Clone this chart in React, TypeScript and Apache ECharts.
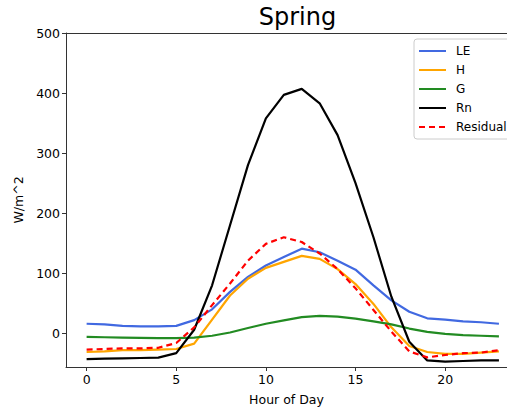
import React, { useEffect, useRef } from "react";
import * as echarts from "echarts";

const hours = [0, 1, 2, 3, 4, 5, 6, 7, 8, 9, 10, 11, 12, 13, 14, 15, 16, 17, 18, 19, 20, 21, 22, 23];
const LE = [16, 15, 12.5, 11.5, 11.5, 12.5, 22, 40, 69, 94, 113, 127, 141, 135, 121, 106, 80, 55, 36, 25, 23, 20, 18.5, 16];
const H = [-31, -30, -28, -28, -27, -26, -17, 23, 63, 91, 109, 119, 129, 124, 107, 82, 49, 10, -21, -31, -34, -34, -32, -30];
const G = [-6, -6.5, -7, -7.5, -8, -8, -7, -4, 1.5, 9, 16, 21.5, 27, 29, 28, 24.5, 20, 15, 8, 2.5, -1, -3, -4, -5];
const Rn = [-43, -42, -41.5, -41, -40.5, -33, 6, 80, 180, 280, 358, 397, 407, 383, 330, 250, 160, 61, -14, -45, -47, -46, -45, -45];
const Residual = [-27, -26, -25, -25, -24, -16, 10, 47, 83, 121, 149, 160, 152, 133, 107, 75, 39, 3, -30, -40, -36, -33, -32, -28];
const xTicks = [0, 5, 10, 15, 20];
const yTicks = [0, 100, 200, 300, 400, 500];

const FONT = "DejaVu Sans";

export default function App() {
  const ref = useRef<HTMLDivElement>(null);
  useEffect(() => {
    if (!ref.current) return;
    const chart = echarts.init(ref.current, undefined, { renderer: "svg" });
    const mk = (name: string, data: number[], color: string, dashed = false) => ({
      name,
      type: "line",
      data: hours.map((h, i) => [h, data[i]]),
      showSymbol: false,
      symbol: "none",
      lineStyle: { color, width: 2.2, type: dashed ? [6, 4] : "solid" },
      itemStyle: { color },
      z: 2,
    });
    const xMin = -1.15;
    const xMax = 23.45;
    chart.setOption({
      animation: false,
      backgroundColor: "#fff",
      title: {
        text: "Spring",
        left: 292.5,
        top: 0,
        textAlign: "center",
        textStyle: { fontFamily: FONT, fontSize: 24, fontWeight: "normal", color: "#000" },
      },
      grid: { left: 66, top: 33, right: 0, bottom: 41 },
      legend: {
        orient: "vertical",
        left: 414,
        top: 39,
        padding: [6, 14, 6, 4],
        itemWidth: 27,
        itemHeight: 12,
        itemGap: 7,
        backgroundColor: "rgba(255,255,255,0.8)",
        borderColor: "#ccc",
        borderWidth: 1,
        borderRadius: 3,
        itemStyle: { opacity: 0 },
        textStyle: { fontFamily: FONT, fontSize: 12, color: "#000", padding: [0, 0, 0, 5] },
        data: ["LE", "H", "G", "Rn", "Residual"],
      },
      xAxis: [
        {
          type: "value",
          min: xMin,
          max: xMax,
          name: "Hour of Day",
          nameLocation: "middle",
          nameGap: 26,
          nameTextStyle: { fontFamily: FONT, fontSize: 12.5, color: "#000" },
          axisLine: { show: true, onZero: false, lineStyle: { color: "#333", width: 1 } },
          axisTick: { show: true, inside: false, length: 4, lineStyle: { color: "#333" }, customValues: xTicks },
          axisLabel: { fontFamily: FONT, fontSize: 12.5, color: "#000", margin: 6, customValues: xTicks },
          splitLine: { show: false },
        },
        {
          type: "value",
          position: "top",
          min: xMin,
          max: xMax,
          axisLine: { show: true, onZero: false, lineStyle: { color: "#333", width: 1 } },
          axisTick: { show: false },
          axisLabel: { show: false },
          splitLine: { show: false },
        },
      ],
      yAxis: {
        type: "value",
        min: -56,
        max: 500,
        name: "W/m^2",
        nameLocation: "middle",
        nameGap: 31,
        nameTextStyle: { fontFamily: FONT, fontSize: 12.5, color: "#000" },
        axisLine: { show: true, onZero: false, lineStyle: { color: "#333", width: 1 } },
        axisTick: { show: true, inside: false, length: 4, lineStyle: { color: "#333" }, customValues: yTicks },
        axisLabel: { fontFamily: FONT, fontSize: 12.5, color: "#000", margin: 6, customValues: yTicks },
        splitLine: { show: false },
      },
      series: [
        mk("LE", LE, "#4169E1"),
        mk("H", H, "#FFA500"),
        mk("G", G, "#228B22"),
        mk("Rn", Rn, "#000000"),
        mk("Residual", Residual, "#FF0000", true),
      ],
    });
    return () => chart.dispose();
  }, []);
  return (
    <div
      ref={ref}
      style={{ position: "fixed", left: 0, top: 0, width: 507, height: 411, background: "#fff" }}
    />
  );
}
